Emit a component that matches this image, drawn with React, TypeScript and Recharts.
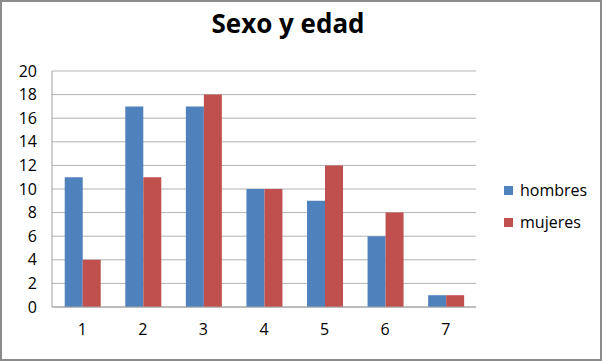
import React from "react";
import { BarChart, Bar, XAxis, YAxis, CartesianGrid } from "recharts";

const categories = ["1", "2", "3", "4", "5", "6", "7"];
const hombres = [11, 17, 17, 10, 9, 6, 1];
const mujeres = [4, 11, 18, 10, 12, 8, 1];
const yTicks = [0, 2, 4, 6, 8, 10, 12, 14, 16, 18, 20];
const title = "Sexo y edad";
const seriesNames = ["hombres", "mujeres"];
const colors = ["#4F81BD", "#C0504D"];

const data = categories.map((c, i) => ({ cat: c, hombres: hombres[i], mujeres: mujeres[i] }));

const FONT = "'Open Sans', sans-serif";

export default function App() {
  return (
    <div
      style={{
        position: "absolute",
        left: 0,
        top: 0,
        width: 602,
        height: 361,
        boxSizing: "border-box",
        border: "2px solid #8c8c8c",
        background: "#fff",
        fontFamily: FONT,
      }}
    >
      <div
        style={{
          position: "absolute",
          left: 0,
          top: 3,
          width: 572,
          textAlign: "center",
          fontSize: 26,
          fontWeight: 700,
          color: "#000",
          lineHeight: "36px",
        }}
      >
        {title}
      </div>
      <div style={{ position: "absolute", left: -2, top: -2 }}>
        <BarChart
          width={602}
          height={361}
          data={data}
          margin={{ top: 71, right: 126, bottom: 24, left: 0 }}
          barCategoryGap="21%"
          barGap={0}
        >
          <CartesianGrid vertical={false} stroke="#b3b3b3" strokeWidth={1} />
          <XAxis
            dataKey="cat"
            height={30}
            tickLine={false}
            tickSize={0}
            tickMargin={17}
            axisLine={{ stroke: "#a0a0a0" }}
            tick={{ fill: "#000", fontSize: 16, fontFamily: FONT }}
          />
          <YAxis
            width={52}
            domain={[0, 20]}
            ticks={yTicks}
            interval={0}
            tickLine={false}
            tickSize={0}
            tickMargin={15}
            axisLine={{ stroke: "#a0a0a0" }}
            tick={{ fill: "#000", fontSize: 16, fontFamily: FONT }}
          />
          <Bar dataKey="hombres" name={seriesNames[0]} fill={colors[0]} isAnimationActive={false} />
          <Bar dataKey="mujeres" name={seriesNames[1]} fill={colors[1]} isAnimationActive={false} />
        </BarChart>
      </div>
      {seriesNames.map((n, i) => (
        <div
          key={n}
          style={{
            position: "absolute",
            left: 502,
            top: 177 + i * 32,
            display: "flex",
            alignItems: "center",
            fontSize: 16,
            color: "#000",
            lineHeight: "22px",
          }}
        >
          <span style={{ display: "inline-block", width: 9, height: 9, background: colors[i], marginRight: 7 }} />
          {n}
        </div>
      ))}
    </div>
  );
}
